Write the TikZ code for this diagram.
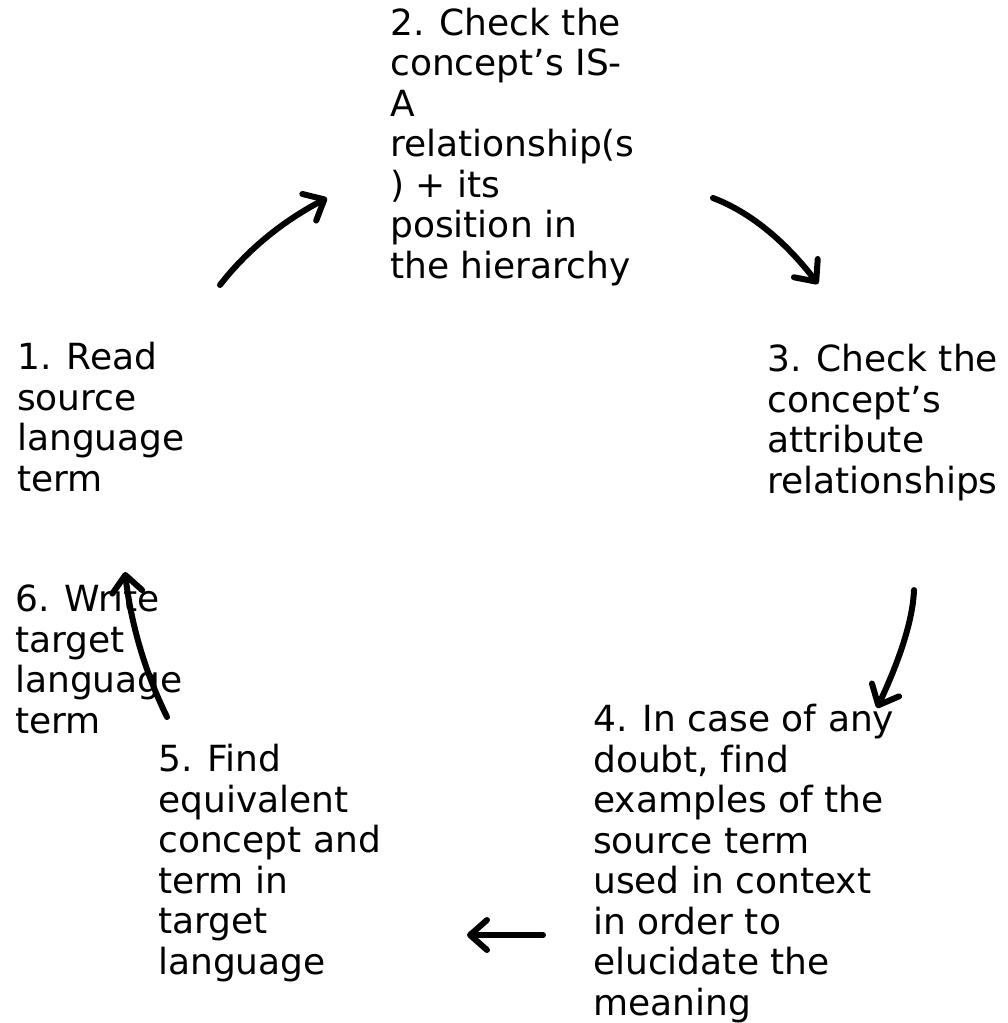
\documentclass[tikz,border=0pt]{standalone}
\usepackage{fontspec}
\setmainfont{DejaVu Sans}[Ligatures=NoCommon]
\usetikzlibrary{arrows.meta}
\begin{document}
\begin{tikzpicture}[x=1pt,y=-1pt,
  steptext/.style={anchor=base west, align=left, inner sep=0pt,
    font=\fontsize{36}{40.5}\selectfont},
  flow/.style={line width=6pt, line cap=round,
    -{Straight Barb[length=17pt,width=30pt,round]}}]
\useasboundingbox (0,0) rectangle (1007,1023);

% anchors are at the baseline of the last line
\node[steptext] (s1) at (17,491) {1. Read\\source\\language\\term};
\node[steptext] (s2) at (390,278) {2. Check the\\concept’s IS-\\A\\relationship(s\\) + its\\position in\\the hierarchy};
\node[steptext] (s3) at (767,493) {3. Check the\\concept’s\\attribute\\relationships};
\node[steptext] (s4) at (593,1015) {4. In case of any\\doubt, find\\examples of the\\source term\\used in context\\in order to\\elucidate the\\meaning};
\node[steptext] (s5) at (158,974) {5. Find\\equivalent\\concept and\\term in\\target\\language};
\node[steptext] (s6) at (15,733) {6. Write\\target\\language\\term};

\coordinate (a1s) at (220,285);
\coordinate (a1e) at (327,198);
\coordinate (a2s) at (713,198);
\coordinate (a2e) at (818,284);
\coordinate (a3s) at (914,590);
\coordinate (a3e) at (877,708);
\coordinate (a4s) at (543,935);
\coordinate (a4e) at (467,935);
\coordinate (a5s) at (167,717);
\coordinate (a5e) at (125,572);

\draw[flow] (a1s) .. controls (247,250) and (283,221) .. (a1e);
\draw[flow] (a2s) .. controls (750,212) and (785,241) .. (a2e);
\draw[flow] (a3s) .. controls (913,618) and (901,657) .. (a3e);
\draw[flow] (a4s) -- (a4e);
\draw[flow] (a5s) .. controls (145,672) and (131,624) .. (a5e);
\end{tikzpicture}
\end{document}
